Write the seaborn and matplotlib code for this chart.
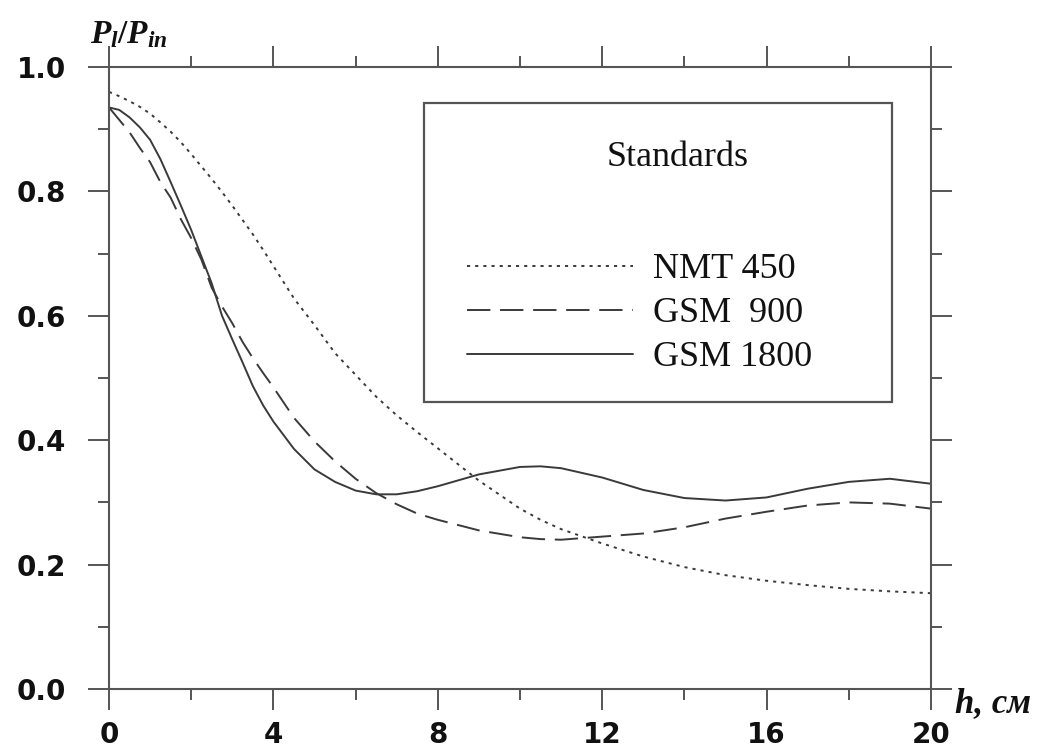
import matplotlib
matplotlib.use("Agg")
import matplotlib.pyplot as plt
from matplotlib.patches import Rectangle
from matplotlib.ticker import MultipleLocator
import seaborn as sns
import pandas as pd

# Curve readings (h in cm, Pl/Pin)
h = [0, 0.25, 0.5, 0.75, 1, 1.25, 1.5, 1.75, 2, 2.25, 2.5, 2.75, 3, 3.25,
     3.5, 3.75, 4, 4.5, 5, 5.5, 6, 6.5, 7, 7.5, 8,
     9, 10, 10.5, 11, 12, 13, 14, 15, 16, 17, 18, 19, 20]
nmt_450 = [0.96, 0.953, 0.945, 0.936, 0.925, 0.911, 0.896, 0.879, 0.86, 0.84,
           0.82, 0.799, 0.777, 0.754, 0.731, 0.706, 0.68, 0.628,
           0.585, 0.54, 0.505, 0.47, 0.44, 0.413, 0.387,
           0.335, 0.29, 0.272, 0.257, 0.234, 0.213, 0.196, 0.183, 0.174,
           0.167, 0.161, 0.157, 0.154]
gsm_900 = [0.935, 0.915, 0.895, 0.87, 0.847, 0.815, 0.79, 0.755, 0.725, 0.69,
           0.645, 0.615, 0.588, 0.558, 0.532, 0.508, 0.485, 0.436,
           0.398, 0.366, 0.338, 0.315, 0.297, 0.282, 0.272,
           0.255, 0.244, 0.241, 0.24, 0.245, 0.25, 0.26, 0.274, 0.285,
           0.295, 0.30, 0.298, 0.29]
gsm_1800 = [0.935, 0.931, 0.919, 0.903, 0.883, 0.852, 0.815, 0.777, 0.738, 0.695,
            0.652, 0.60, 0.562, 0.525, 0.487, 0.456, 0.43, 0.386,
            0.353, 0.333, 0.319, 0.313, 0.313, 0.318, 0.326,
            0.345, 0.357, 0.358, 0.355, 0.34, 0.32, 0.307, 0.303, 0.308,
            0.322, 0.333, 0.338, 0.33]
labels = ["NMT 450", "GSM  900", "GSM 1800"]

df = pd.DataFrame({"h": h, labels[0]: nmt_450, labels[1]: gsm_900, labels[2]: gsm_1800})

sns.set_style("ticks")
plt.rcParams["font.family"] = ["DejaVu Sans"]
plt.rcParams["mathtext.fontset"] = "custom"
plt.rcParams["mathtext.it"] = "Liberation Serif:italic:bold"
plt.rcParams["mathtext.rm"] = "Liberation Serif:bold"

fig = plt.figure(figsize=(10.56, 7.51), dpi=100)
ax = fig.add_axes([109 / 1056, 1 - 689 / 751, 822 / 1056, 622 / 751])

line_color = "#3a3a3a"
styles = [(0, (1.6, 2.6)), (0, (12, 5)), "-"]
for lab, ls in zip(labels, styles):
    sns.lineplot(data=df, x="h", y=lab, ax=ax, color=line_color, lw=1.4,
                 linestyle=ls, label=lab)

ax.set_xlim(0, 20)
ax.set_ylim(0, 1.0)
ax.xaxis.set_major_locator(MultipleLocator(4))
ax.xaxis.set_minor_locator(MultipleLocator(2))
ax.yaxis.set_major_locator(MultipleLocator(0.2))
ax.yaxis.set_minor_locator(MultipleLocator(0.1))
ax.yaxis.set_major_formatter(plt.FormatStrFormatter("%.1f"))

spine_color = "#555555"
for s in ax.spines.values():
    s.set_color(spine_color)
    s.set_linewidth(1.5)
ax.tick_params(which="both", direction="out", top=True, right=True,
               color=spine_color, width=1.4)
ax.tick_params(which="major", length=15, labelsize=20, labelcolor="#111111")
ax.tick_params(which="minor", length=8)
ax.tick_params(axis="x", which="major", pad=8)
ax.tick_params(axis="y", which="major", pad=16)
for t in ax.get_xticklabels() + ax.get_yticklabels():
    t.set_fontweight("bold")

ax.set_xlabel("")
ax.set_ylabel("")
fig.text(90 / 1056, 1 - 34 / 751, r"$P_l/P_{in}$", fontsize=24,
         va="center", ha="left", color="#111111")
fig.text(955 / 1056, 1 - 704 / 751, "h, см", fontsize=25, fontweight="bold",
         style="italic", family="Liberation Serif", va="center", ha="left",
         color="#111111")

# legend box
ax.add_patch(Rectangle((0.383, 0.461), 0.570, 0.481, transform=ax.transAxes,
                       fill=False, edgecolor="#555555", lw=1.6, clip_on=False,
                       zorder=5))
ax.text(0.692, 0.855, "Standards", transform=ax.transAxes, ha="center",
        va="center", fontsize=26, family="Liberation Serif", color="#111111")
leg = ax.legend(loc="upper left", bbox_to_anchor=(467 / 1056, 1 - 253 / 751),
                bbox_transform=fig.transFigure, frameon=False, borderpad=0,
                borderaxespad=0, handlelength=4.6, handletextpad=0.55,
                labelspacing=0.3, prop={"family": "Liberation Serif", "size": 26})
for txt in leg.get_texts():
    txt.set_color("#111111")

fig.savefig("out.png", dpi=100)
